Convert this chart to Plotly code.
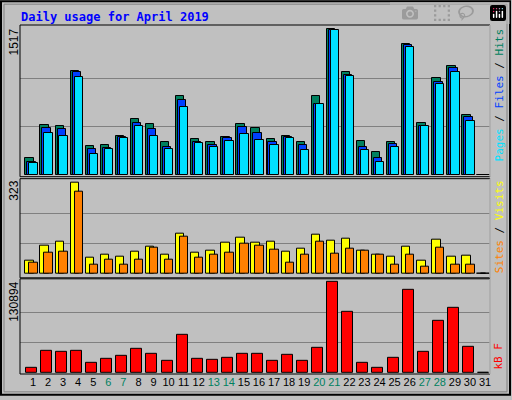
import plotly.graph_objects as go

days = list(range(1, 32))
hits = [178, 528, 518, 1088, 302, 312, 415, 590, 539, 343, 827, 374, 343, 395, 539,
        497, 374, 405, 343, 827, 1517, 1074, 353, 240, 343, 1362, 549, 1012, 1136, 631, 0]
files = [137, 497, 487, 1071, 271, 281, 395, 549, 487, 292, 786, 343, 312, 384, 508,
         446, 343, 395, 312, 745, 1510, 1043, 292, 178, 322, 1352, 518, 971, 1115, 611, 0]
pages = [127, 446, 415, 1023, 220, 271, 384, 518, 415, 271, 714, 333, 292, 353, 426,
         364, 312, 384, 261, 745, 1507, 1033, 261, 137, 292, 1331, 518, 951, 1074, 570, 0]
visits = [46, 102, 116, 323, 60, 70, 63, 81, 98, 70, 144, 77, 84, 112, 130,
          112, 116, 81, 91, 140, 119, 126, 84, 70, 63, 98, 49, 123, 63, 67, 0]
sites = [42, 77, 81, 291, 35, 53, 35, 53, 95, 53, 133, 60, 70, 77, 109,
         102, 88, 39, 70, 116, 74, 91, 84, 70, 35, 70, 28, 95, 35, 35, 0]
kbytes = [7643, 32006, 30573, 32006, 14809, 20541, 24840, 34872, 27707, 17675, 54936, 20541,
          19108, 21974, 27707, 27707, 17675, 26274, 17675, 36305, 130894, 87897, 14809, 7643,
          21974, 119425, 30573, 75000, 93630, 37738, 0]
weekends = [6, 7, 13, 14, 20, 21, 27, 28]

BG = "#C0C0C0"
L, R, T, B = 20, 490, 25, 377


def px(x):
    return (x - L) / (R - L)


def py(y):
    return (B - y) / (B - T)


fig = go.Figure()
line = dict(color="black", width=1)


def bars(y, color, off, w, axis):
    fig.add_trace(go.Bar(x=days, y=y, marker=dict(color=color, line=line), offset=off,
                         width=w, xaxis="x" + axis, yaxis="y" + axis, hoverinfo="y"))


bars(hits, "#00805F", -0.5, 0.55, "")
bars(files, "#0040FF", -0.37, 0.55, "")
bars(pages, "#00E0FF", -0.24, 0.55, "")
bars(visits, "#FFFF00", -0.5, 0.55, "2")
bars(sites, "#FF8000", -0.24, 0.55, "2")
bars(kbytes, "#FF0000", -0.47, 0.73, "3")

ticktext = [f"<span style='color:#00805F'>{d}</span>" if d in weekends else str(d) for d in days]
xr = [0.14, 31.33]
xbase = dict(range=xr, showgrid=False, zeroline=False, showticklabels=False, ticks="", fixedrange=True)
doms = {"": [py(178), 1], "2": [py(280), py(180)], "3": [0, py(281)]}
mx = {"": 1517, "2": 323, "3": 130894}
yr = {"": [-13, 1563], "2": [-13, 338], "3": [-1862, 135620]}
lay = {}
for k in ["", "2", "3"]:
    lay["xaxis" + k] = dict(xbase, anchor="y" + k)
    lay["yaxis" + k] = dict(domain=doms[k], range=yr[k], anchor="x" + k, tickvals=[mx[k] / 3, 2 * mx[k] / 3],
                           showticklabels=False, ticks="", gridcolor="#808080", gridwidth=1,
                           zeroline=False, fixedrange=True)
lay["xaxis3"].update(showticklabels=True, tickvals=days, ticktext=ticktext,
                     tickfont=dict(family="Liberation Sans", size=11, color="black"))
lay["xaxis"]["matches"] = "x3"
lay["xaxis2"]["matches"] = "x3"

shapes = [
    dict(type="rect", xref="paper", yref="paper", x0=px(1), x1=px(510), y0=py(398), y1=py(1),
         line=dict(color="black", width=2), layer="below"),
    dict(type="rect", xref="paper", yref="paper", x0=px(4), x1=px(507), y0=py(395), y1=py(4),
         line=dict(color="#808080", width=1), layer="below"),
]
for y0, y1 in [(178, 25), (280, 180), (377, 281)]:
    shapes.append(dict(type="rect", xref="paper", yref="paper", x0=0, x1=1, y0=py(y0), y1=py(y1),
                       line=dict(color="black", width=1)))
    shapes.append(dict(type="line", xref="paper", yref="paper", x0=1, x1=1, y0=py(y0), y1=py(y1),
                       line=dict(color="white", width=1)))

mono = "DejaVu Sans Mono"
annotations = [
    dict(text="<b>Daily usage for April 2019</b>", x=px(19), y=py(8), xanchor="left", yanchor="top",
         font=dict(family=mono, size=12, color="#0000FF")),
]
for k, top in [("1517", 27), ("323", 180), ("130894", 282)]:
    annotations.append(dict(text=k, textangle=-90, x=px(14), y=py(top), xanchor="center", yanchor="top",
                            font=dict(family="Liberation Sans", size=12, color="black")))
annotations += [
    dict(text="<span style='color:#00E0FF'>Pages</span> / <span style='color:#0040FF'>Files</span>"
              " / <span style='color:#00805F'>Hits</span>",
         textangle=-90, x=px(499), y=py(27), xanchor="center", yanchor="top",
         font=dict(family=mono, size=11, color="black")),
    dict(text="<span style='color:#FF8000'>Sites</span> / <span style='color:#FFFF00'>Visits</span>",
         textangle=-90, x=px(499), y=py(180), xanchor="center", yanchor="top",
         font=dict(family=mono, size=11, color="black")),
    dict(text="kB F", textangle=-90, x=px(499), y=py(375), xanchor="center", yanchor="bottom",
         font=dict(family=mono, size=11, color="#FF0000")),
]
for a in annotations:
    a.update(xref="paper", yref="paper", showarrow=False)

fig.update_layout(width=512, height=400, margin=dict(l=L, r=512 - R, t=T, b=400 - B),
                  paper_bgcolor=BG, plot_bgcolor=BG, barmode="overlay", bargap=0, showlegend=False,
                  shapes=shapes, annotations=annotations, **lay)
fig.write_html("out.html", post_script="document.body.style.margin='0';document.body.style.overflow='hidden';")
